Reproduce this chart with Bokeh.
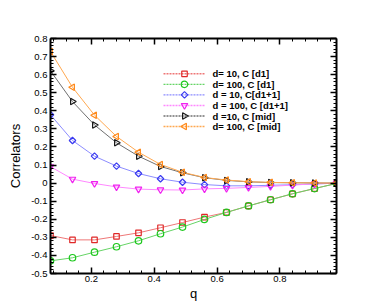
import math
from bokeh.plotting import figure
from bokeh.models import (LinearAxis, FixedTicker, CustomJSTickFormatter, Range1d)
from bokeh.core.properties import value
from bokeh.embed import file_html
from bokeh.resources import INLINE

# ---- data ----
q = [0.07, 0.14, 0.21, 0.28, 0.35, 0.42, 0.49, 0.56, 0.63, 0.70, 0.77, 0.84, 0.91, 0.98]
c_d1_10 = [-0.290, -0.314, -0.314, -0.295, -0.275, -0.247, -0.218, -0.188, -0.162, -0.126, -0.092, -0.059, -0.030, -0.002]
c_d1_100 = [-0.430, -0.413, -0.382, -0.352, -0.319, -0.280, -0.243, -0.201, -0.162, -0.126, -0.092, -0.059, -0.030, -0.002]
c_d11_10 = [0.378, 0.236, 0.149, 0.094, 0.053, 0.024, 0.005, -0.008, -0.015, -0.015, -0.012, -0.009, -0.005, 0.000]
c_d11_100 = [0.091, 0.022, -0.002, -0.021, -0.033, -0.037, -0.038, -0.032, -0.029, -0.024, -0.018, -0.011, -0.004, 0.000]
c_mid_10 = [0.621, 0.451, 0.322, 0.223, 0.149, 0.092, 0.057, 0.030, 0.015, 0.007, 0.003, 0.002, 0.001, 0.000]
c_mid_100 = [0.728, 0.530, 0.376, 0.258, 0.171, 0.103, 0.060, 0.031, 0.017, 0.008, 0.004, 0.002, 0.001, 0.000]

labels = [" d= 10, C [d1]", "d= 100, C [d1]", "d = 10, C[d1+1]",
          "d = 100, C [d1+1]", "d =10, C [mid]", "d= 100, C [mid]"]

x_ticks = [0.2, 0.4, 0.6, 0.8]
x_minor = [round(0.04 * i, 2) for i in range(1, 25)]
y_ticks = [round(-0.5 + 0.1 * i, 1) for i in range(14)]
y_minor = [round(-0.5 + 0.02 * i, 2) for i in range(66)]

FONT = "Liberation Sans"

p = figure(width=380, height=304, x_range=Range1d(0.07, 0.98), y_range=Range1d(-0.5, 0.8),
           output_backend="svg", toolbar_location=None,
           min_border_left=50, min_border_right=44, min_border_top=38, min_border_bottom=31)
p.grid.visible = False
p.outline_line_color = None
p.background_fill_color = "white"
p.border_fill_color = "white"

fmt = CustomJSTickFormatter(code="return String(Number(tick.toFixed(2)));")

def style_axis(ax, ticker, show_labels):
    ax.ticker = ticker
    ax.formatter = fmt
    ax.axis_line_width = 2
    ax.axis_line_color = "black"
    ax.major_tick_in = 6
    ax.major_tick_out = 0
    ax.minor_tick_in = 3
    ax.minor_tick_out = 0
    ax.major_tick_line_width = 1.5
    ax.minor_tick_line_width = 1
    ax.major_label_text_font = FONT
    ax.major_label_text_font_size = "9.5px"
    ax.major_label_text_color = "black" if show_labels else None

style_axis(p.xaxis[0], FixedTicker(ticks=x_ticks, minor_ticks=x_minor), True)
style_axis(p.yaxis[0], FixedTicker(ticks=y_ticks, minor_ticks=y_minor), True)
p.xaxis[0].major_label_standoff = 2
p.yaxis[0].major_label_standoff = 3
p.xaxis[0].axis_label = "q"
p.yaxis[0].axis_label = "Correlators"
for ax in (p.xaxis[0], p.yaxis[0]):
    ax.axis_label_text_font = FONT
    ax.axis_label_text_font_size = "13px"
    ax.axis_label_text_font_style = "normal"
    ax.axis_label_text_color = "black"
p.xaxis[0].axis_label_standoff = 1
p.yaxis[0].axis_label_standoff = 5

top = LinearAxis()
right = LinearAxis()
style_axis(top, FixedTicker(ticks=x_ticks, minor_ticks=x_minor), False)
style_axis(right, FixedTicker(ticks=y_ticks, minor_ticks=y_minor), False)
p.add_layout(top, "above")
p.add_layout(right, "right")

series = [
    (c_d1_10, "#e02828", "#ee7777", "square", 5.5, 0.0),
    (c_d1_100, "#1ec81e", "#66d466", "circle", 6.5, 0.0),
    (c_d11_10, "#3a3af0", "#8c8cff", "square", 4.6, math.pi / 4),
    (c_d11_100, "#f020f0", "#ff88ff", "inverted_triangle", 6.5, 0.0),
    (c_mid_10, "#1a1a1a", "#707070", "triangle", 6.5, -math.pi / 2),
    (c_mid_100, "#ff8a1c", "#ffa850", "triangle", 6.5, math.pi / 2),
]

for (ys, mc, lc, marker, size, ang) in series:
    p.line(q, ys, line_color=lc, line_width=1)
    p.scatter(q, ys, marker=marker, size=size, angle=ang, fill_color=None,
              line_color=mc, line_width=1.2)

# ---- legend, drawn in frame pixel coordinates ----
FW, FH = 286, 235
p.extra_x_ranges = {"px": Range1d(0, FW)}
p.extra_y_ranges = {"py": Range1d(0, FH)}
LEG_X0, LEG_X1, LEG_MX, LEG_TX = 113, 155, 134, 162
LEG_Y0, LEG_DY = 199.7, 10.55
for i, ((ys, mc, lc, marker, size, ang), lab) in enumerate(zip(series, labels)):
    yy = LEG_Y0 - i * LEG_DY
    p.segment(x0=[LEG_X0], y0=[yy], x1=[LEG_X1], y1=[yy], line_color=lc, line_width=1.4,
              line_dash="2 1", x_range_name="px", y_range_name="py")
    p.scatter(x=[LEG_MX], y=[yy], marker=marker, size=size, angle=ang, fill_color=None,
              line_color=mc, line_width=1.2, x_range_name="px", y_range_name="py")
    p.text(x=[LEG_TX], y=[yy], text=[lab], text_font=value(FONT), text_font_size="9.5px",
           text_font_style="bold", text_baseline="middle", text_color="black",
           x_range_name="px", y_range_name="py")

open("out.html", "w").write(file_html(p, INLINE))
